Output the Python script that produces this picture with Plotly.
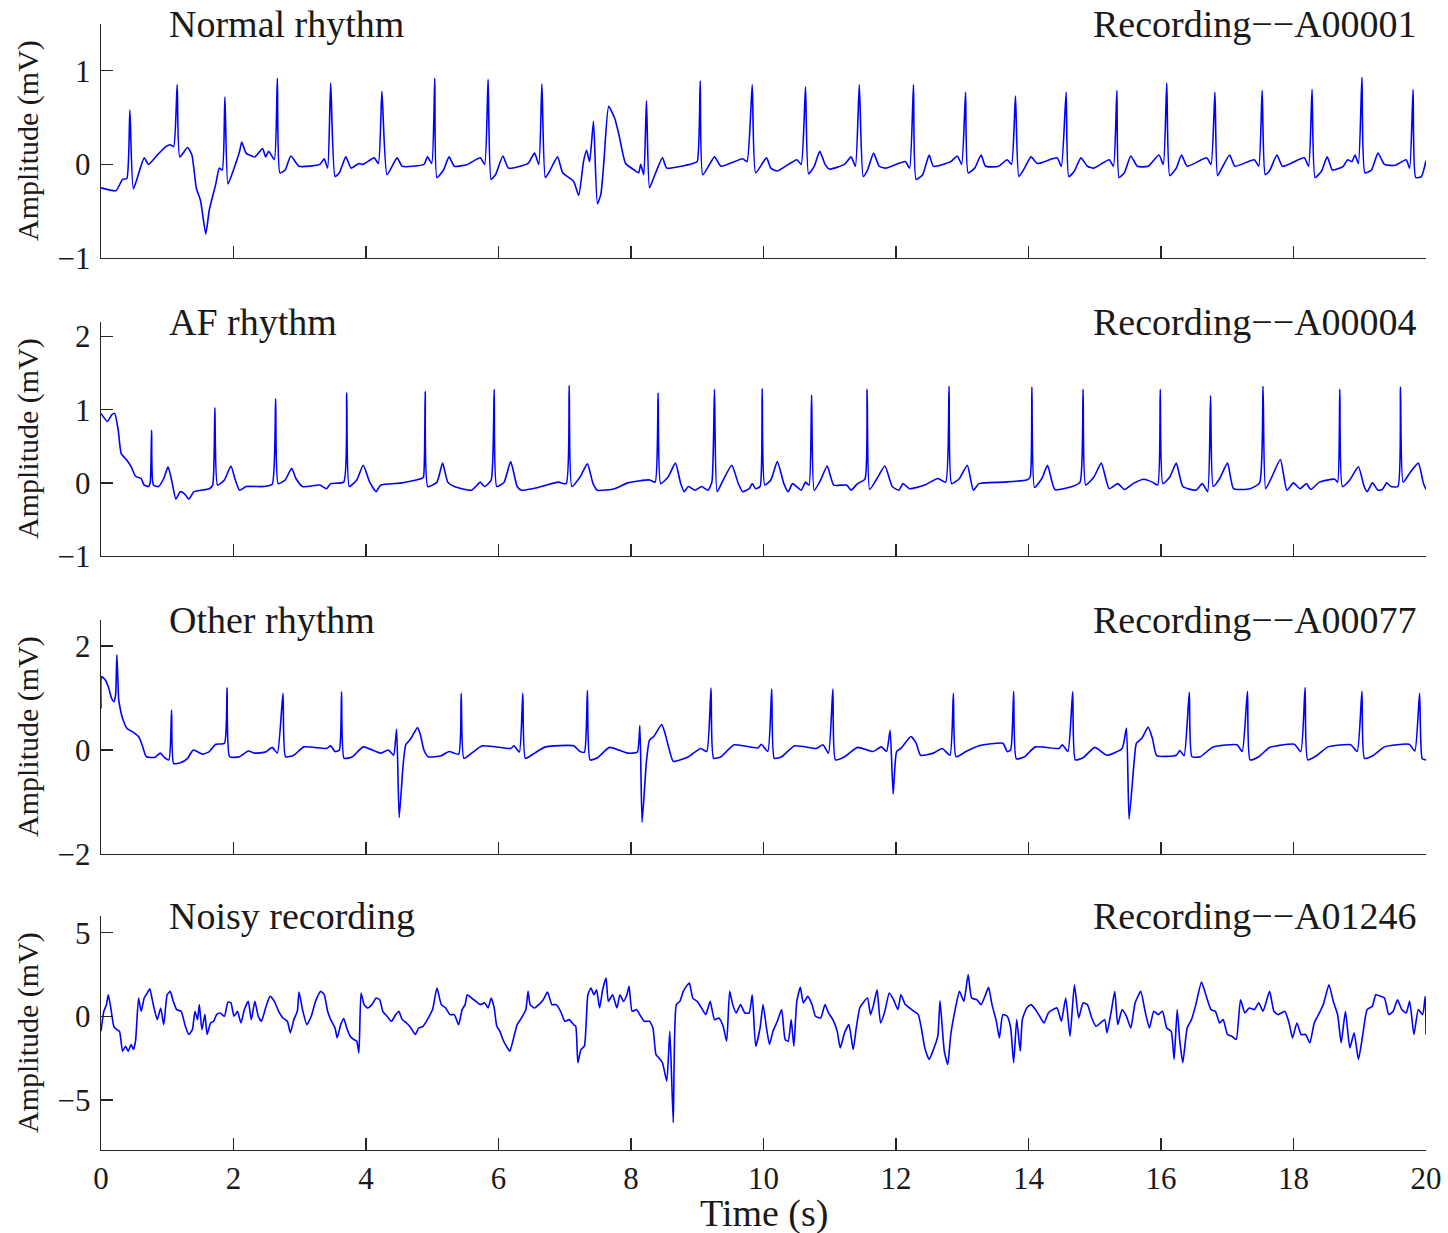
import plotly.graph_objects as go

# ---------------- data (time in s, amplitude in mV) ----------------
normal_pts = [
(0.0,-0.25),(0.227,-0.28),(0.325,-0.16),(0.39,-0.15),(0.436,0.58),(0.489,-0.26),(0.652,0.07),(0.718,0.0),
(0.849,0.10),(0.98,0.19),(1.045,0.21),(1.097,0.19),(1.15,0.85),(1.189,0.08),(1.307,0.18),(1.372,0.10),
(1.438,-0.25),(1.503,-0.39),(1.582,-0.745),(1.634,-0.49),(1.732,-0.21),(1.785,-0.04),(1.831,-0.06),(1.87,0.72),
(1.916,-0.21),(1.994,-0.07),(2.092,0.14),(2.125,0.24),(2.191,0.12),(2.322,0.08),(2.439,0.17),(2.485,0.08),
(2.531,0.14),(2.616,0.05),(2.662,0.92),(2.701,-0.09),(2.78,-0.06),(2.865,0.09),(2.989,-0.02),(3.303,0.0),
(3.369,0.06),(3.421,-0.04),(3.467,0.87),(3.533,-0.13),(3.598,-0.09),(3.696,0.08),(3.775,-0.04),(3.893,0.01),
(3.958,0.0),(4.122,0.07),(4.187,0.01),(4.24,0.78),(4.318,-0.11),(4.469,0.07),(4.547,-0.02),(4.874,0.0),
(4.927,0.08),(4.992,0.01),(5.038,0.92),(5.071,-0.14),(5.169,-0.06),(5.254,0.08),(5.333,-0.02),(5.529,0.0),
(5.725,0.07),(5.791,0.0),(5.843,0.91),(5.889,-0.16),(5.955,-0.11),(6.066,0.09),(6.151,-0.04),(6.445,0.01),
(6.544,0.12),(6.609,0.0),(6.655,0.86),(6.707,-0.14),(6.773,-0.07),(6.891,0.08),(6.969,-0.09),(7.133,-0.18),
(7.211,-0.33),(7.283,0.03),(7.329,0.15),(7.375,0.03),(7.434,0.46),(7.493,-0.42),(7.545,-0.32),(7.591,0.03),
(7.663,0.62),(7.755,0.49),(7.82,0.31),(7.918,0.01),(8.049,-0.06),(8.115,-0.09),(8.147,0.0),(8.193,-0.11),
(8.233,0.68),(8.279,-0.25),(8.344,-0.14),(8.475,0.07),(8.54,-0.04),(8.933,0.01),(8.999,0.03),(9.045,0.89),
(9.084,-0.11),(9.261,0.08),(9.358,-0.02),(9.686,0.06),(9.751,0.03),(9.83,0.85),(9.882,-0.09),(10.045,0.07),
(10.111,-0.04),(10.209,-0.07),(10.503,0.05),(10.569,0.0),(10.634,0.83),(10.68,-0.10),(10.765,-0.02),(10.85,0.14),
(10.929,0.0),(10.994,-0.05),(11.223,0.0),(11.322,0.08),(11.387,-0.02),(11.446,0.85),(11.505,-0.13),(11.57,-0.06),
(11.662,0.12),(11.747,-0.02),(11.845,-0.04),(12.14,0.03),(12.205,-0.04),(12.264,0.85),(12.304,-0.16),(12.402,-0.11),
(12.5,0.10),(12.565,-0.02),(12.827,0.03),(12.926,0.09),(12.991,0.0),(13.05,0.77),(13.089,-0.09),(13.187,-0.04),
(13.285,0.10),(13.351,-0.02),(13.547,-0.02),(13.678,0.05),(13.744,0.0),(13.803,0.73),(13.855,-0.13),(13.94,-0.04),
(14.038,0.08),(14.136,0.01),(14.431,0.07),(14.496,-0.02),(14.568,0.77),(14.608,-0.13),(14.693,-0.07),(14.791,0.07),
(14.889,-0.02),(14.987,-0.04),(15.217,0.05),(15.282,-0.02),(15.334,0.79),(15.367,-0.14),(15.446,-0.09),(15.544,0.09),
(15.642,-0.02),(15.806,-0.02),(15.969,0.10),(16.035,0.0),(16.087,0.87),(16.133,-0.12),(16.231,-0.04),(16.31,0.10),
(16.395,-0.02),(16.689,0.07),(16.755,0.0),(16.814,0.77),(16.853,-0.12),(16.918,-0.04),(17.036,0.10),(17.115,-0.02),
(17.409,0.05),(17.475,-0.02),(17.527,0.79),(17.573,-0.11),(17.638,-0.07),(17.75,0.10),(17.835,-0.02),(18.162,0.07),
(18.228,-0.02),(18.28,0.80),(18.326,-0.14),(18.424,-0.07),(18.509,0.08),(18.588,-0.06),(18.751,-0.02),(18.817,0.05),
(18.882,0.03),(18.928,0.10),(18.98,0.01),(19.033,0.93),(19.079,-0.09),(19.177,-0.06),(19.275,0.12),(19.373,0.0),
(19.537,-0.01),(19.7,0.05),(19.753,-0.04),(19.805,0.80),(19.845,-0.14),(19.93,-0.13),(20.0,0.04),
]

af_pts = [
(0.0,0.95),(0.096,0.84),(0.161,0.93),(0.207,0.95),(0.26,0.72),(0.305,0.40),(0.39,0.31),(0.456,0.22),
(0.521,0.09),(0.606,0.06),(0.652,-0.03),(0.718,-0.05),(0.744,0.01),(0.764,0.72),(0.79,-0.03),(0.868,-0.05),
(0.947,0.06),(1.012,0.22),(1.065,0.04),(1.13,-0.22),(1.196,-0.12),(1.261,-0.15),(1.327,-0.22),(1.405,-0.12),
(1.634,-0.08),(1.686,-0.03),(1.719,1.03),(1.759,-0.03),(1.863,0.04),(1.961,0.23),(2.027,0.04),(2.092,-0.10),
(2.191,-0.05),(2.453,-0.05),(2.583,-0.02),(2.636,1.15),(2.675,-0.01),(2.78,0.04),(2.878,0.20),(2.943,0.06),
(3.042,-0.05),(3.303,-0.03),(3.402,-0.08),(3.467,-0.01),(3.663,0.01),(3.709,1.23),(3.748,-0.05),(3.86,0.04),
(3.958,0.24),(4.056,0.01),(4.154,-0.12),(4.22,-0.03),(4.547,0.0),(4.842,0.06),(4.868,0.08),(4.894,1.25),
(4.933,-0.05),(5.071,0.01),(5.156,0.27),(5.234,0.01),(5.333,-0.05),(5.594,-0.10),(5.725,0.01),(5.791,-0.05),
(5.889,0.04),(5.935,1.28),(5.974,-0.05),(6.085,0.01),(6.184,0.29),(6.282,-0.05),(6.347,-0.10),(6.609,-0.06),
(6.904,0.01),(7.022,-0.01),(7.067,1.33),(7.107,-0.05),(7.231,0.08),(7.342,0.26),(7.427,-0.01),(7.493,-0.10),
(7.755,-0.08),(7.951,0.0),(8.279,0.04),(8.364,0.01),(8.409,1.23),(8.448,-0.01),(8.56,0.08),(8.671,0.27),
(8.75,-0.01),(8.802,-0.12),(8.867,-0.05),(8.966,-0.10),(9.064,-0.05),(9.162,-0.10),(9.221,0.01),(9.26,1.28),
(9.3,-0.12),(9.392,0.04),(9.522,0.24),(9.62,-0.01),(9.686,-0.12),(9.784,-0.08),(9.83,-0.01),(9.882,-0.08),
(9.948,-0.05),(9.98,1.29),(10.019,-0.03),(10.111,0.04),(10.209,0.29),(10.307,-0.01),(10.373,-0.12),(10.438,-0.01),
(10.569,-0.10),(10.634,0.01),(10.687,-0.03),(10.726,1.20),(10.765,-0.10),(10.863,0.04),(10.962,0.23),(11.06,-0.03),
(11.256,-0.03),(11.322,-0.10),(11.42,-0.01),(11.531,0.05),(11.564,1.28),(11.603,-0.09),(11.714,0.06),(11.832,0.23),
(11.944,-0.05),(12.042,-0.10),(12.107,-0.01),(12.205,-0.08),(12.435,-0.03),(12.631,0.06),(12.749,0.01),(12.801,1.32),
(12.84,-0.01),(12.958,0.06),(13.076,0.24),(13.168,-0.10),(13.253,-0.01),(13.613,0.01),(13.973,0.04),(14.025,0.08),
(14.051,1.31),(14.091,-0.06),(14.202,0.06),(14.287,0.24),(14.398,-0.09),(14.66,-0.05),(14.778,0.01),(14.824,1.28),
(14.863,-0.03),(14.987,0.08),(15.099,0.27),(15.217,-0.08),(15.347,-0.01),(15.446,-0.09),(15.577,-0.01),(15.74,0.05),
(15.871,0.01),(15.95,-0.03),(15.989,1.28),(16.028,-0.01),(16.133,0.08),(16.231,0.27),(16.329,-0.05),(16.526,-0.10),
(16.624,-0.01),(16.703,-0.12),(16.748,1.19),(16.788,-0.05),(16.886,0.06),(17.004,0.27),(17.095,-0.08),(17.344,-0.08),
(17.488,0.0),(17.54,1.32),(17.58,-0.08),(17.672,0.08),(17.802,0.32),(17.9,-0.10),(17.999,0.0),(18.097,-0.08),
(18.195,-0.01),(18.26,-0.09),(18.391,0.01),(18.62,0.05),(18.666,0.01),(18.699,1.28),(18.738,-0.05),(18.849,0.04),
(18.98,0.22),(19.066,-0.05),(19.112,-0.12),(19.19,0.0),(19.275,-0.10),(19.341,-0.09),(19.406,0.0),(19.471,-0.05),
(19.576,-0.05),(19.615,1.31),(19.655,0.01),(19.766,0.15),(19.884,0.27),(19.962,-0.01),(20.0,-0.09),
]

other_pts = [
(0.0,0.80),(0.01,1.41),(0.063,1.35),(0.109,1.22),(0.161,0.99),(0.194,0.93),(0.22,1.06),(0.24,1.83),
(0.266,0.99),(0.279,0.87),(0.325,0.61),(0.39,0.42),(0.489,0.34),(0.567,0.26),(0.62,0.10),(0.685,-0.13),
(0.816,-0.14),(0.895,-0.06),(0.947,-0.13),(1.025,-0.19),(1.065,0.77),(1.097,-0.26),(1.209,-0.24),(1.307,-0.16),
(1.392,0.0),(1.536,-0.08),(1.634,-0.03),(1.732,0.11),(1.863,0.13),(1.903,1.20),(1.942,-0.13),(2.092,-0.13),
(2.223,-0.02),(2.322,-0.06),(2.485,-0.04),(2.583,0.05),(2.662,-0.06),(2.747,1.09),(2.786,-0.13),(2.911,-0.10),
(3.061,0.06),(3.402,0.03),(3.467,0.08),(3.533,-0.03),(3.598,0.0),(3.631,1.12),(3.67,-0.16),(3.794,-0.13),
(3.958,0.06),(4.22,-0.06),(4.338,0.0),(4.416,-0.10),(4.462,0.40),(4.501,-1.30),(4.56,-0.29),(4.6,0.10),
(4.678,0.22),(4.776,0.43),(4.822,0.29),(4.874,0.0),(4.94,-0.13),(5.136,-0.11),(5.254,-0.03),(5.398,-0.08),
(5.437,1.09),(5.477,-0.16),(5.594,-0.06),(5.758,0.08),(6.184,0.03),(6.236,0.08),(6.315,-0.04),(6.367,1.09),
(6.406,-0.16),(6.544,-0.06),(6.708,0.06),(7.133,0.08),(7.231,-0.03),(7.297,-0.04),(7.342,1.15),(7.382,-0.19),
(7.493,-0.15),(7.676,0.05),(7.951,-0.06),(8.095,-0.04),(8.134,0.47),(8.167,-1.39),(8.233,-0.22),(8.279,0.19),
(8.344,0.26),(8.462,0.49),(8.507,0.35),(8.573,0.03),(8.639,-0.22),(8.867,-0.13),(9.051,0.03),(9.143,-0.03),
(9.208,1.19),(9.247,-0.16),(9.358,-0.13),(9.555,0.10),(9.915,0.04),(9.967,0.11),(10.065,-0.03),(10.124,1.17),
(10.163,-0.16),(10.274,-0.13),(10.471,0.08),(10.798,0.03),(10.896,0.10),(10.981,-0.06),(11.047,1.17),(11.086,-0.19),
(11.223,-0.13),(11.42,0.05),(11.649,-0.03),(11.78,0.06),(11.858,-0.03),(11.911,0.38),(11.957,-0.85),(12.009,-0.03),
(12.074,0.03),(12.225,0.26),(12.304,0.13),(12.369,-0.10),(12.565,-0.06),(12.696,0.03),(12.814,-0.10),(12.866,1.09),
(12.906,-0.13),(13.056,-0.03),(13.253,0.08),(13.613,0.13),(13.678,-0.03),(13.731,0.0),(13.776,1.13),(13.816,-0.17),
(13.94,-0.13),(14.104,0.06),(14.464,0.03),(14.51,0.10),(14.595,-0.03),(14.667,1.12),(14.706,-0.19),(14.824,-0.15),
(15.0,0.05),(15.184,-0.10),(15.413,0.03),(15.478,0.42),(15.518,-1.33),(15.59,-0.29),(15.629,0.13),(15.708,0.22),
(15.806,0.44),(15.871,0.22),(15.936,-0.11),(16.231,-0.10),(16.284,-0.01),(16.349,-0.11),(16.427,1.11),(16.467,-0.13),
(16.591,-0.13),(16.787,0.06),(17.147,0.10),(17.226,-0.03),(17.305,1.13),(17.344,-0.19),(17.475,-0.13),(17.639,0.05),
(18.012,0.11),(18.11,-0.03),(18.175,1.20),(18.215,-0.19),(18.359,-0.10),(18.522,0.06),(18.863,0.10),(18.961,-0.03),
(19.033,1.13),(19.072,-0.16),(19.209,-0.10),(19.373,0.06),(19.746,0.11),(19.832,-0.02),(19.903,1.09),(19.943,-0.17),
(20.0,-0.19),
]

noisy_pts = [
(0.0,-0.89),(0.043,0.30),(0.083,0.70),(0.109,1.29),(0.148,0.50),(0.194,-0.60),(0.24,-0.80),(0.279,-0.89),
(0.325,-2.09),(0.371,-1.79),(0.41,-2.09),(0.456,-1.69),(0.489,-1.99),(0.521,-1.49),(0.567,1.09),(0.606,0.30),
(0.652,1.09),(0.698,1.39),(0.737,1.65),(0.783,0.80),(0.849,-0.20),(0.901,0.50),(0.947,-0.50),(0.999,1.29),
(1.045,1.49),(1.091,0.89),(1.143,0.40),(1.209,0.30),(1.274,-0.60),(1.326,-1.09),(1.379,-0.80),(1.418,0.30),
(1.457,-0.20),(1.484,0.70),(1.523,-0.80),(1.569,0.10),(1.601,-1.09),(1.654,-0.40),(1.70,-0.30),(1.745,0.10),
(1.798,0.20),(1.863,0.0),(1.916,0.85),(1.961,0.80),(2.007,0.0),(2.06,0.30),(2.112,-0.40),(2.164,0.40),
(2.223,0.89),(2.269,-0.20),(2.322,0.89),(2.374,0.0),(2.42,-0.30),(2.485,0.50),(2.551,1.19),(2.616,0.89),
(2.682,0.30),(2.747,-0.10),(2.813,-0.30),(2.858,-0.99),(2.911,-0.20),(2.963,0.30),(2.989,1.45),(3.042,0.40),
(3.107,-0.50),(3.173,0.0),(3.238,0.89),(3.316,1.49),(3.369,1.29),(3.421,0.30),(3.467,-0.20),(3.533,-0.70),
(3.565,-1.29),(3.618,-0.50),(3.664,-0.14),(3.709,-0.70),(3.762,-1.19),(3.814,-1.39),(3.86,-1.49),(3.893,-2.19),
(3.925,1.39),(3.971,0.70),(4.024,0.50),(4.089,0.70),(4.154,1.09),(4.207,0.99),(4.253,0.30),(4.318,0.0),
(4.384,-0.30),(4.449,0.10),(4.495,0.30),(4.547,-0.20),(4.613,-0.40),(4.678,-0.70),(4.744,-1.09),(4.796,-0.70),
(4.861,-0.60),(4.94,-0.10),(5.005,0.40),(5.071,1.69),(5.137,0.70),(5.202,0.50),(5.267,0.10),(5.333,0.10),
(5.398,-0.50),(5.451,0.40),(5.496,0.70),(5.529,1.29),(5.594,1.09),(5.66,0.89),(5.725,0.70),(5.791,0.80),
(5.843,0.50),(5.889,1.09),(5.935,0.50),(5.974,-0.60),(6.02,-0.89),(6.066,-1.39),(6.118,-1.79),(6.171,-2.09),
(6.216,-1.49),(6.282,-0.50),(6.347,-0.10),(6.413,0.40),(6.446,1.49),(6.478,0.70),(6.544,0.50),(6.609,0.70),
(6.675,0.99),(6.74,1.45),(6.806,0.70),(6.871,0.70),(6.937,0.30),(7.002,-0.30),(7.067,-0.20),(7.133,-0.50),
(7.166,-0.60),(7.198,-2.78),(7.244,-1.99),(7.296,-1.79),(7.349,1.29),(7.395,1.69),(7.441,1.29),(7.48,1.59),
(7.526,0.50),(7.572,1.59),(7.624,2.29),(7.657,0.89),(7.722,1.29),(7.787,0.50),(7.833,1.29),(7.886,0.89),
(7.938,1.29),(7.971,1.79),(8.017,0.30),(8.082,0.40),(8.147,0.0),(8.20,-0.30),(8.278,-0.30),(8.331,-0.70),
(8.377,-2.29),(8.422,-2.49),(8.475,-2.78),(8.54,-3.88),(8.586,-0.89),(8.638,-6.36),(8.684,0.70),(8.737,0.89),
(8.789,1.49),(8.835,1.79),(8.881,1.99),(8.933,1.09),(8.999,0.89),(9.064,0.50),(9.129,0.10),(9.195,0.89),
(9.26,-0.20),(9.326,-0.10),(9.391,-0.60),(9.444,-1.49),(9.489,1.49),(9.535,0.70),(9.588,0.20),(9.653,0.70),
(9.719,0.20),(9.784,0.20),(9.83,1.29),(9.882,-1.79),(9.948,-0.70),(9.993,0.70),(10.045,-0.70),(10.091,-1.69),
(10.143,-0.89),(10.209,-0.30),(10.274,0.40),(10.327,-1.39),(10.373,-1.49),(10.418,-0.20),(10.458,-1.79),(10.503,0.89),
(10.556,1.73),(10.602,0.80),(10.667,1.19),(10.733,0.70),(10.785,0.0),(10.863,-0.10),(10.929,0.70),(10.981,0.20),
(11.047,-0.20),(11.112,-0.89),(11.158,-1.89),(11.223,-0.99),(11.289,-0.50),(11.354,-1.99),(11.40,-0.70),(11.453,0.50),
(11.518,0.89),(11.57,1.09),(11.616,0.10),(11.662,0.70),(11.714,1.59),(11.767,-0.40),(11.832,0.30),(11.898,1.39),
(11.963,0.99),(12.029,0.40),(12.074,1.29),(12.14,0.70),(12.205,0.50),(12.271,0.30),(12.336,0.10),(12.382,-0.70),
(12.435,-1.89),(12.50,-2.58),(12.565,-1.99),(12.631,-1.19),(12.664,0.93),(12.729,-2.09),(12.781,-2.88),(12.827,-1.09),
(12.893,0.40),(12.958,1.49),(13.024,0.89),(13.089,2.49),(13.141,1.09),(13.22,0.99),(13.285,0.70),(13.351,1.29),
(13.397,1.73),(13.449,0.70),(13.515,-0.30),(13.56,-1.29),(13.613,0.10),(13.678,0.0),(13.731,-0.70),(13.776,-2.78),
(13.822,-0.20),(13.875,-2.09),(13.907,-0.20),(13.973,0.50),(14.038,0.70),(14.104,0.40),(14.169,0.0),(14.235,-0.40),
(14.30,0.20),(14.366,0.40),(14.431,0.50),(14.496,-0.30),(14.562,1.09),(14.627,-1.19),(14.693,1.89),(14.758,-0.10),
(14.824,0.80),(14.889,0.70),(14.955,-0.10),(15.02,-0.60),(15.086,-0.40),(15.151,-0.20),(15.184,-0.99),(15.249,0.30),
(15.302,1.49),(15.347,-0.50),(15.413,0.40),(15.478,0.0),(15.544,-0.70),(15.609,0.80),(15.694,1.49),(15.76,0.30),
(15.825,-0.70),(15.891,0.30),(15.956,0.10),(16.022,0.30),(16.087,-0.70),(16.153,-0.89),(16.198,-2.58),(16.244,0.40),
(16.284,-1.49),(16.329,-2.78),(16.395,-0.70),(16.46,-0.20),(16.526,0.70),(16.611,2.05),(16.676,1.29),(16.755,0.40),
(16.82,0.30),(16.886,-0.40),(16.938,-0.20),(17.004,-1.09),(17.069,-1.19),(17.135,-1.39),(17.20,0.99),(17.266,0.20),
(17.331,0.50),(17.41,0.40),(17.475,0.80),(17.54,0.30),(17.639,1.49),(17.704,0.30),(17.769,0.10),(17.868,0.30),
(17.933,-0.40),(17.985,-1.29),(18.051,-0.40),(18.116,-1.09),(18.182,-1.09),(18.247,-1.59),(18.313,-0.40),(18.391,0.20),
(18.457,0.80),(18.535,1.89),(18.601,0.89),(18.666,0.10),(18.719,-1.59),(18.784,0.30),(18.85,-1.89),(18.915,-0.99),
(18.98,-2.58),(19.046,-1.09),(19.111,0.40),(19.19,0.60),(19.242,1.29),(19.321,1.19),(19.373,1.09),(19.439,0.10),
(19.504,0.30),(19.569,0.99),(19.635,0.40),(19.70,0.20),(19.753,0.89),(19.818,-1.09),(19.884,0.40),(19.949,0.10),
(19.988,1.19),(20.0,-1.09),
]

rhythm_labels = ["Normal rhythm", "AF rhythm", "Other rhythm", "Noisy recording"]
record_labels = ["Recording\u2212\u2212A00001", "Recording\u2212\u2212A00004",
                 "Recording\u2212\u2212A00077", "Recording\u2212\u2212A01246"]
y_ranges = [[-1, 1.5], [-1, 2.2], [-2, 2.5], [-8, 6]]
y_ticks = [[-1, 0, 1], [-1, 0, 1, 2], [-2, 0, 2], [-5, 0, 5]]
x_ticks = list(range(0, 21, 2))

series = [normal_pts, af_pts, other_pts, noisy_pts]

# ---------------- figure ----------------
W, H = 1448, 1233
ML, MR, MT, MB = 101, 22, 24, 83
plot_w = W - ML - MR
plot_h = H - MT - MB
panel_h = 234
panel_tops = [0, 298, 596, 892]  # px offsets from plot top
FONT = "Liberation Serif, Times New Roman, serif"
AX = "#262626"
TXT = "#1a1a1a"

fig = go.Figure()
layout = dict(
    width=W, height=H, margin=dict(l=ML, r=MR, t=MT, b=MB, autoexpand=False),
    paper_bgcolor="white", plot_bgcolor="white", showlegend=False,
    font=dict(family=FONT, color=AX, size=30),
)
annotations = []
for i, pts in enumerate(series):
    n = i + 1
    xs = [p[0] for p in pts]
    ys = [p[1] for p in pts]
    xa = "x" if n == 1 else f"x{n}"
    ya = "y" if n == 1 else f"y{n}"
    fig.add_trace(go.Scatter(x=xs, y=ys, mode="lines", xaxis=xa, yaxis=ya,
                             line=dict(color="#0000FF", width=1.6, shape="spline", smoothing=0.5),
                             hoverinfo="skip"))
    top = panel_tops[i]
    d1 = 1 - top / plot_h
    d0 = max(0.0, 1 - (top + panel_h) / plot_h)
    xkey = "xaxis" if n == 1 else f"xaxis{n}"
    ykey = "yaxis" if n == 1 else f"yaxis{n}"
    layout[xkey] = dict(
        domain=[0, 1], anchor=ya, range=[0, 20], tickvals=x_ticks, automargin=False,
        showticklabels=(n == 4), ticks="inside", ticklen=12, tickwidth=1.3, tickcolor=AX,
        showline=True, linecolor=AX, linewidth=1.3, showgrid=False, zeroline=False,
        tickfont=dict(size=31, family=FONT, color=TXT), fixedrange=True,
    )
    layout[ykey] = dict(
        domain=[d0, d1], anchor=xa, range=y_ranges[i], tickvals=y_ticks[i], automargin=False,
        ticks="inside", ticklen=12, tickwidth=1.3, tickcolor=AX,
        showline=True, linecolor=AX, linewidth=1.3, showgrid=False, zeroline=False,
        tickfont=dict(size=31, family=FONT, color=TXT), ticklabelstandoff=3, fixedrange=True,
    )
    annotations.append(dict(text=rhythm_labels[i], xref=xa, yref=f"{ya} domain", x=1.0, y=1.0,
                            xanchor="left", yanchor="middle", showarrow=False,
                            font=dict(size=38, family=FONT, color=TXT)))
    annotations.append(dict(text=record_labels[i], xref=xa, yref=f"{ya} domain", x=19.9, y=1.0,
                            xanchor="right", yanchor="middle", showarrow=False,
                            font=dict(size=38, family=FONT, color=TXT)))
    annotations.append(dict(text="Amplitude (mV)", xref="paper", yref="paper",
                            x=(28 - ML) / plot_w, y=(d0 + d1) / 2, textangle=-90,
                            xanchor="center", yanchor="middle", showarrow=False,
                            font=dict(size=30, family=FONT, color=TXT)))

annotations.append(dict(text="Time (s)", xref="paper", yref="paper",
                        x=0.5, y=-(1213 - (H - MB)) / plot_h, xanchor="center", yanchor="middle",
                        showarrow=False, font=dict(size=38, family=FONT, color=TXT)))
layout["annotations"] = annotations
fig.update_layout(**layout)
# remove the default page margin so the figure sits at the window's top-left corner
fig.write_html("out.html",
               config={"displayModeBar": False, "staticPlot": True},
               post_script="document.body.style.margin='0px';document.body.style.overflow='hidden';")
